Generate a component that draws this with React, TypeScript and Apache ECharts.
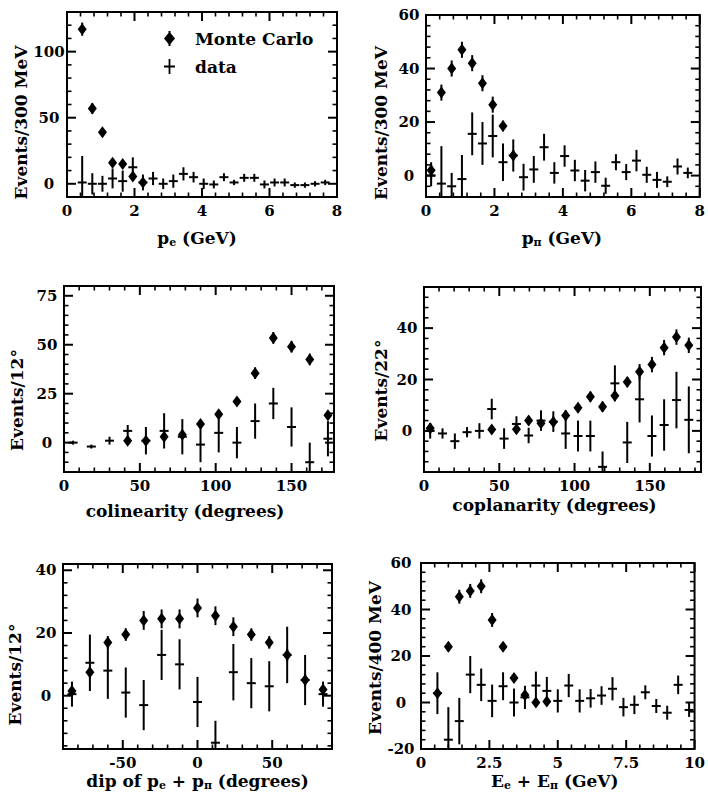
import React, { useEffect, useRef } from "react";
import * as echarts from "echarts";

const FONT = '"DejaVu Serif", "Liberation Serif", serif';

// ---- Panel 1: p_e ----
const peBins = [0.45, 0.75, 1.05, 1.35, 1.65, 1.95, 2.25, 2.55, 2.85, 3.15, 3.45, 3.75, 4.05, 4.35, 4.65, 4.95, 5.25, 5.55, 5.85, 6.15, 6.45, 6.75, 7.05, 7.35, 7.65];
const peData = [1, 0, 0, 4, 2, 12.5, 1, 4, 0, 2, 7.5, 5, 0, -0.5, 5, 1, 4.5, 4.5, -0.5, 1, 1, -1, -1, 0, 1];
const peDataErr = [20, 8, 6, 7.5, 8, 7.5, 6, 5, 4, 5, 5, 4, 4, 3, 3, 2, 3, 3, 3, 3, 3, 2, 2, 2, 2];
const peMcBins = [0.45, 0.75, 1.05, 1.35, 1.65, 1.95, 2.25];
const peMc = [117, 57, 39, 16, 15, 5.5, 1];
const peMcErr = [5, 4, 3, 2, 2, 2, 1];

// ---- Panel 2: p_pi ----
const ppiBins = [0.15, 0.45, 0.75, 1.05, 1.35, 1.65, 1.95, 2.25, 2.55, 2.85, 3.15, 3.45, 3.75, 4.05, 4.35, 4.65, 4.95, 5.25, 5.55, 5.85, 6.15, 6.45, 6.75, 7.05, 7.35, 7.65];
const ppiData = [0, -3, -4, -1.3, 15.6, 12, 14.8, 5, 7.5, -0.6, 2.3, 10.6, 1, 7.3, 1.9, -1.9, 1.3, -3.8, 5, 1.3, 5.6, 0.3, -1.6, -2.3, 3.4, 1];
const ppiDataErr = [4, 14, 5, 9, 8, 8, 8, 7, 6, 5, 5, 5, 4, 4, 4, 4, 4, 3, 3, 3, 4, 3, 3, 2, 3, 2];
const ppiMcBins = [0.15, 0.45, 0.75, 1.05, 1.35, 1.65, 1.95, 2.25, 2.55];
const ppiMc = [2, 31, 40, 47, 42, 34.5, 26.5, 18.5, 7.5];
const ppiMcErr = [3, 3, 3, 3, 3, 3, 3, 2, 2];

// ---- Panel 3: colinearity ----
const colBins = [6, 18, 30, 42, 54, 66, 78, 90, 102, 114, 126, 138, 150, 162, 174];
const colData = [0, -2, 1, 6, 1, 6, 3, -1, 5, 0, 11, 20, 8, -10, 2];
const colDataErr = [1, 1, 2, 3, 7, 9, 9, 9, 10, 8, 9, 8, 10, 10, 9];
const colMcBins = [42, 54, 66, 78, 90, 102, 114, 126, 138, 150, 162, 174];
const colMc = [1, 1, 3, 4, 9.5, 14.5, 21, 35.5, 53.5, 49, 42.5, 14];
const colMcErr = [1, 2, 2, 2, 2, 2, 2, 3, 3, 3, 3, 2];

// ---- Panel 4: coplanarity ----
const copBins = [4.1, 12.3, 20.5, 28.6, 36.8, 45, 53.2, 61.4, 69.5, 77.7, 85.9, 94.1, 102.3, 110.5, 118.6, 126.8, 135, 143.2, 151.4, 159.5, 167.7, 175.9];
const copData = [0, -1, -4, -0.5, 0, 8.5, -3, 2.7, -1.8, 4, 3.6, -1, -2, -2, -14, 18.5, -4.5, 12.3, -2, 2.3, 12, 4.3];
const copDataErr = [3, 2, 3, 2, 3, 4, 4, 3, 3, 4, 4, 6, 6, 6, 6, 7, 8, 9, 8, 10, 11, 13];
const copMcBins = [4.1, 45, 61.4, 69.5, 77.7, 85.9, 94.1, 102.3, 110.5, 118.6, 126.8, 135, 143.2, 151.4, 159.5, 167.7, 175.9];
const copMc = [1, 0.5, 0.6, 4, 3, 3.5, 6, 9, 13.3, 9.4, 13.7, 19, 23, 25.8, 32.4, 36.5, 33.3];
const copMcErr = [2, 1, 1, 1, 2, 2, 2, 2, 2, 2, 2, 2, 3, 3, 3, 3, 3];

// ---- Panel 5: dip ----
const dipBins = [-84, -72, -60, -48, -36, -24, -12, 0, 12, 24, 36, 48, 60, 72, 84];
const dipData = [0.5, 10.5, 8, 1, -3, 13, 10, -2, -15, 7.5, 4, 3, 13, 5, 0.5];
const dipDataErr = [4, 9, 9, 8, 8, 8, 8, 8, 7, 9, 8, 8, 9, 8, 4];
const dipMcBins = [-84, -72, -60, -48, -36, -24, -12, 0, 12, 24, 36, 48, 60, 72, 84];
const dipMc = [1.5, 7.5, 17, 19.5, 24, 24.5, 24.5, 28, 25.5, 22, 19.5, 17, 13, 5, 2];
const dipMcErr = [2, 2, 2, 2, 3, 3, 3, 3, 3, 3, 2, 2, 2, 2, 2];

// ---- Panel 6: E_e + E_pi ----
const eBins = [0.6, 1.0, 1.4, 1.8, 2.2, 2.6, 3.0, 3.4, 3.8, 4.2, 4.6, 5.0, 5.4, 5.8, 6.2, 6.6, 7.0, 7.4, 7.8, 8.2, 8.6, 9.0, 9.4, 9.8];
const eData = [4, -16, -8, 12, 7.6, 0.7, 7, 0, 2.2, 7.3, 5, 0.7, 7.3, 0.7, 1.8, 3, 5.9, -2, -1, 4.4, -1.5, -4.4, 7.6, -3.2];
const eDataErr = [9, 14, 10, 8, 7, 7, 6, 6, 5, 6, 6, 5, 5, 5, 4, 4, 5, 4, 4, 3, 3, 3, 4, 3];
const eMcBins = [0.6, 1.0, 1.4, 1.8, 2.2, 2.6, 3.0, 3.4, 3.8, 4.2, 4.6];
const eMc = [4, 24, 45.5, 48, 50, 35.5, 24, 10.5, 3.2, 0, 0.4];
const eMcErr = [2, 2, 3, 3, 3, 3, 2, 2, 2, 1, 1];

// tick values
const p1XTicks = [0, 2, 4, 6, 8];
const p1YTicks = [0, 50, 100];
const p2XTicks = [0, 2, 4, 6, 8];
const p2YTicks = [0, 20, 40, 60];
const p3XTicks = [0, 50, 100, 150];
const p3YTicks = [0, 25, 50, 75];
const p4XTicks = [0, 50, 100, 150];
const p4YTicks = [0, 20, 40];
const p5XTicks = [-50, 0, 50];
const p5YTicks = [0, 20, 40];
const p6XTicks = [0, 2.5, 5, 7.5, 10];
const p6YTicks = [-20, 0, 20, 40, 60];

function steps(start: number, end: number, step: number) {
  const out: number[] = [];
  for (let v = start; v <= end + 1e-9; v += step) out.push(Math.round(v * 1000) / 1000);
  return out;
}

const panels = [
  {
    grid: { left: 67, top: 12, width: 270, height: 185 },
    x: [0, 8], xMajor: p1XTicks, xMinor: [0, 8, 0.4],
    y: [-10, 130], yMajor: p1YTicks, yMinor: [-10, 130, 10],
    xName: "{m|p}{s|e}{m| (GeV)}", xGap: 31, xShift: 5,
    yName: "Events/300 MeV", yGap: 38, yShift: 18, yLab: 18,
    dx: peBins, dy: peData, de: peDataErr, mx: peMcBins, my: peMc, me: peMcErr,
  },
  {
    grid: { left: 426, top: 15, width: 275, height: 182 },
    x: [0, 8], xMajor: p2XTicks, xMinor: [0, 8, 0.4],
    y: [-8, 60], yMajor: p2YTicks, yMinor: [-8, 60, 4],
    xName: "{m|p}{s|π}{m| (GeV)}", xGap: 31, xShift: 1,
    yName: "Events/300 MeV", yGap: 37, yShift: 17, yLab: 17,
    dx: ppiBins, dy: ppiData, de: ppiDataErr, mx: ppiMcBins, my: ppiMc, me: ppiMcErr,
  },
  {
    grid: { left: 64, top: 286, width: 270, height: 186 },
    x: [0, 178], xMajor: p3XTicks, xMinor: [0, 178, 10],
    y: [-15, 80], yMajor: p3YTicks, yMinor: [-15, 80, 5],
    xName: "{m|colinearity (degrees)}", xGap: 29, xShift: 14,
    yName: "Events/12°", yGap: 39, yShift: 21, yLab: 17,
    dx: colBins, dy: colData, de: colDataErr, mx: colMcBins, my: colMc, me: colMcErr,
  },
  {
    grid: { left: 424, top: 287, width: 277, height: 185 },
    x: [0, 184], xMajor: p4XTicks, xMinor: [0, 184, 10],
    y: [-16, 56], yMajor: p4YTicks, yMinor: [-16, 56, 4],
    xName: "{m|coplanarity (degrees)}", xGap: 23, xShift: 8,
    yName: "Events/22°", yGap: 35, yShift: 11, yLab: 17,
    dx: copBins, dy: copData, de: copDataErr, mx: copMcBins, my: copMc, me: copMcErr,
  },
  {
    grid: { left: 63, top: 564, width: 269, height: 185 },
    x: [-90, 90], xMajor: p5XTicks, xMinor: [-90, 90, 10],
    y: [-17, 42], yMajor: p5YTicks, yMinor: [-16, 40, 4],
    xName: "{m|dip of p}{s|e}{m| + p}{s|π}{m| (degrees)}", xGap: 22, xShift: 0,
    yName: "Events/12°", yGap: 40, yShift: 18, yLab: 17,
    dx: dipBins, dy: dipData, de: dipDataErr, mx: dipMcBins, my: dipMc, me: dipMcErr,
  },
  {
    grid: { left: 421, top: 563, width: 278, height: 186 },
    x: [0, 10], xMajor: p6XTicks, xMinor: [0, 10, 0.5],
    y: [-20, 60], yMajor: p6YTicks, yMinor: [-20, 60, 4],
    xName: "{m|E}{s|e}{m| + E}{s|π}{m| (GeV)}", xGap: 22, xShift: 3,
    yName: "Events/400 MeV", yGap: 34, yShift: 2, yLab: 20,
    dx: eBins, dy: eData, de: eDataErr, mx: eMcBins, my: eMc, me: eMcErr,
  },
];

function errorBar(params: any, api: any, mc: boolean) {
  const x = api.value(0);
  const y = api.value(1);
  const e = api.value(2);
  const cs = params.coordSys;
  const c = api.coord([x, y]);
  const t = api.coord([x, y + e])[1];
  const b = api.coord([x, y - e])[1];
  const y1 = Math.max(t, cs.y);
  const y2 = Math.min(b, cs.y + cs.height);
  const children: any[] = [];
  if (y2 > y1) {
    children.push({ type: "line", shape: { x1: c[0], y1, x2: c[0], y2 }, style: { stroke: "#000", lineWidth: 2 } });
  }
  if (c[1] >= cs.y && c[1] <= cs.y + cs.height) {
    if (mc) {
      children.push({
        type: "polygon",
        shape: { points: [[c[0], c[1] - 6], [c[0] + 4.5, c[1]], [c[0], c[1] + 6], [c[0] - 4.5, c[1]]] },
        style: { fill: "#000" },
      });
    } else {
      children.push({ type: "line", shape: { x1: c[0] - 4.5, y1: c[1], x2: c[0] + 4.5, y2: c[1] }, style: { stroke: "#000", lineWidth: 2 } });
    }
  }
  return { type: "group", children };
}

// frame ticks on all four sides, placed through the panel's own axis scales
function frameTicks(params: any, api: any, p: any, xMinorVals: number[], yMinorVals: number[]) {
  const out: any[] = [];
  try {
    const cs = params.coordSys;
    const bot = cs.y + cs.height;
    const right = cs.x + cs.width;
    const addX = (v: number, len: number, w: number) => {
      const px = api.coord([v, p.y[0]])[0];
      out.push({ type: "line", shape: { x1: px, y1: bot, x2: px, y2: bot - len }, style: { stroke: "#000", lineWidth: w } });
      out.push({ type: "line", shape: { x1: px, y1: cs.y, x2: px, y2: cs.y + len }, style: { stroke: "#000", lineWidth: w } });
    };
    const addY = (v: number, len: number, w: number) => {
      const py = api.coord([p.x[0], v])[1];
      out.push({ type: "line", shape: { x1: cs.x, y1: py, x2: cs.x + len, y2: py }, style: { stroke: "#000", lineWidth: w } });
      out.push({ type: "line", shape: { x1: right, y1: py, x2: right - len, y2: py }, style: { stroke: "#000", lineWidth: w } });
    };
    p.xMajor.forEach((v: number) => addX(v, 9, 2));
    xMinorVals.forEach((v: number) => addX(v, 4.5, 1.6));
    p.yMajor.forEach((v: number) => addY(v, 9, 2));
    yMinorVals.forEach((v: number) => addY(v, 4.5, 1.6));
  } catch (e) {
    // keep the data marks even if tick placement fails
  }
  return out;
}

function buildOption() {
  const labelStyle = { fontFamily: FONT, fontWeight: "bold", fontSize: 15, color: "#000" };
  const nameBase = { fontFamily: FONT, fontWeight: "bold", fontSize: 17, color: "#000" };
  const grids: any[] = [];
  const xAxes: any[] = [];
  const yAxes: any[] = [];
  const series: any[] = [];

  panels.forEach((p, i) => {
    grids.push({ ...p.grid, show: true, borderColor: "#000", borderWidth: 2 });
    const xMinorVals = steps(p.xMinor[0], p.xMinor[1], p.xMinor[2]).filter((v) => !p.xMajor.includes(v));
    const yMinorVals = steps(p.yMinor[0], p.yMinor[1], p.yMinor[2]).filter((v) => !p.yMajor.includes(v));

    xAxes.push({
      gridIndex: i, type: "value", min: p.x[0], max: p.x[1], position: "bottom",
      axisLine: { show: false, onZero: false }, splitLine: { show: false }, axisTick: { show: false },
      axisLabel: { show: true, customValues: p.xMajor, margin: 6, ...labelStyle },
      name: p.xName, nameLocation: "middle", nameGap: p.xGap,
      nameTextStyle: {
        ...nameBase, padding: [0, 2 * p.xShift, 0, 0],
        rich: {
          m: { ...nameBase, lineHeight: 20 },
          s: { ...nameBase, fontSize: 11, lineHeight: 10, verticalAlign: "bottom" },
        },
      },
    });
    yAxes.push({
      gridIndex: i, type: "value", min: p.y[0], max: p.y[1], position: "left",
      axisLine: { show: false, onZero: false }, splitLine: { show: false }, axisTick: { show: false },
      axisLabel: { show: true, customValues: p.yMajor, margin: p.yLab, align: "center", ...labelStyle },
      name: p.yName, nameLocation: "middle", nameGap: p.yGap,
      nameTextStyle: { ...nameBase, padding: [0, 2 * p.yShift, 0, 0] },
    });

    series.push({
      type: "custom", name: "data", xAxisIndex: i, yAxisIndex: i,
      data: p.dx.map((x, k) => [x, p.dy[k], p.de[k]]),
      encode: { x: 0, y: 1 },
      itemStyle: { color: "#000" },
      renderItem: (params: any, api: any) => {
        const g: any = errorBar(params, api, false);
        if (params.dataIndex === 0) {
          g.children = g.children.concat(frameTicks(params, api, p, xMinorVals, yMinorVals));
        }
        return g;
      },
      z: 5,
    });
    series.push({
      type: "custom", name: "Monte Carlo", xAxisIndex: i, yAxisIndex: i,
      data: p.mx.map((x, k) => [x, p.my[k], p.me[k]]),
      encode: { x: 0, y: 1 },
      itemStyle: { color: "#000" },
      renderItem: (params: any, api: any) => errorBar(params, api, true),
      z: 6,
    });
  });

  return {
    animation: false,
    backgroundColor: "#fff",
    color: ["#000"],
    grid: grids,
    xAxis: xAxes,
    yAxis: yAxes,
    series,
    legend: {
      left: 164,
      top: 30,
      orient: "vertical",
      padding: 0,
      itemWidth: 11,
      itemHeight: 15,
      itemGap: 11,
      selectedMode: false,
      itemStyle: { color: "#000" },
      textStyle: { fontFamily: FONT, fontWeight: "bold", fontSize: 17, color: "#000", lineHeight: 16, padding: [0, 0, 0, 15] },
      data: [
        { name: "Monte Carlo", icon: "path://M4.5,0 H6.5 V2 L11,7.5 L6.5,13 V15 H4.5 V13 L0,7.5 L4.5,2 Z" },
        { name: "data", icon: "path://M4.6,0 H6.4 V6.6 H11 V8.4 H6.4 V15 H4.6 V8.4 H0 V6.6 H4.6 Z" },
      ],
    },
  };
}

export default function App() {
  const ref = useRef<HTMLDivElement>(null);
  useEffect(() => {
    if (!ref.current) return;
    const chart = echarts.init(ref.current, null, { renderer: "svg" });
    chart.setOption(buildOption() as any);
    return () => chart.dispose();
  }, []);
  return <div ref={ref} style={{ position: "absolute", left: 0, top: 0, width: 708, height: 800, background: "#fff" }} />;
}
